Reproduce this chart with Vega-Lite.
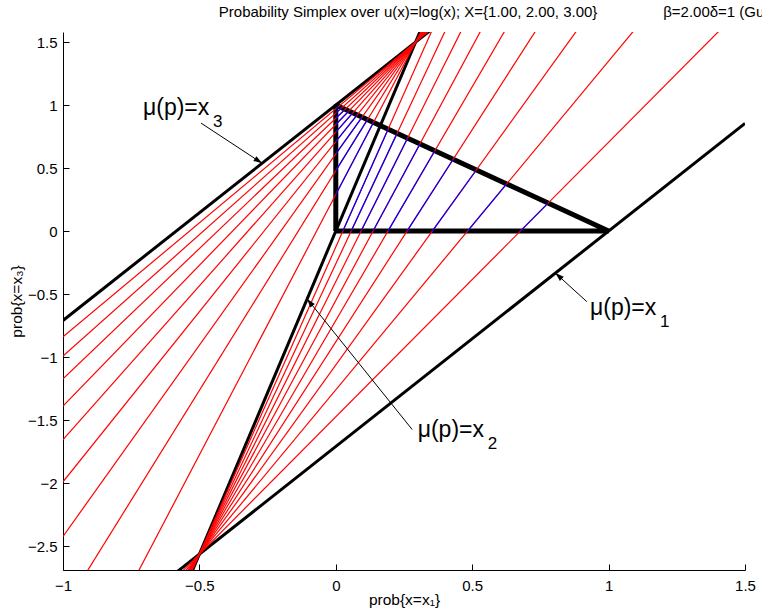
{
  "$schema": "https://vega.github.io/schema/vega-lite/v6.json",
  "width": 682,
  "height": 538,
  "autosize": {"type": "none"},
  "padding": {"left": 63, "top": 32, "right": 17, "bottom": 44},
  "background": "white",
  "config": {
    "view": {"stroke": null},
    "font": "Liberation Sans",
    "axis": {"grid": false, "domainColor": "black", "tickColor": "black", "labelColor": "black", "titleColor": "black", "labelFontSize": 15, "titleFontSize": 15.5, "titleFontWeight": "normal", "tickSize": -6, "labelFont": "Liberation Sans", "titleFont": "Liberation Sans", "domainWidth": 1, "tickWidth": 1, "labelFlush": false}
  },
  "datasets": {
    "lines": [
      {"id": "m1", "k": "black", "o": 0, "x": -1, "y": -3.4190},
      {"id": "m1", "k": "black", "o": 1, "x": 1.5, "y": 0.8548},
      {"id": "m2", "k": "black", "o": 0, "x": -1, "y": -5.1285},
      {"id": "m2", "k": "black", "o": 1, "x": 1.5, "y": 7.6928},
      {"id": "m3", "k": "black", "o": 0, "x": -1, "y": -0.7095},
      {"id": "m3", "k": "black", "o": 1, "x": 1.5, "y": 3.5643},
      {"id": "tri", "k": "tri", "o": 0, "x": 0, "y": 0},
      {"id": "tri", "k": "tri", "o": 1, "x": 1, "y": 0},
      {"id": "tri", "k": "tri", "o": 2, "x": 0, "y": 1},
      {"id": "tri", "k": "tri", "o": 3, "x": 0, "y": 0},
      {"id": "r1.1", "k": "red", "o": 0, "x": -1, "y": -3.6541},
      {"id": "r1.1", "k": "red", "o": 1, "x": 1.5, "y": 1.7950},
      {"id": "r1.2", "k": "red", "o": 0, "x": -1, "y": -3.8687},
      {"id": "r1.2", "k": "red", "o": 1, "x": 1.5, "y": 2.6534},
      {"id": "r1.3", "k": "red", "o": 0, "x": -1, "y": -4.0661},
      {"id": "r1.3", "k": "red", "o": 1, "x": 1.5, "y": 3.4430},
      {"id": "r1.4", "k": "red", "o": 0, "x": -1, "y": -4.2489},
      {"id": "r1.4", "k": "red", "o": 1, "x": 1.5, "y": 4.1741},
      {"id": "r1.5", "k": "red", "o": 0, "x": -1, "y": -4.4190},
      {"id": "r1.5", "k": "red", "o": 1, "x": 1.5, "y": 4.8548},
      {"id": "r1.6", "k": "red", "o": 0, "x": -1, "y": -4.5782},
      {"id": "r1.6", "k": "red", "o": 1, "x": 1.5, "y": 5.4915},
      {"id": "r1.7", "k": "red", "o": 0, "x": -1, "y": -4.7277},
      {"id": "r1.7", "k": "red", "o": 1, "x": 1.5, "y": 6.0895},
      {"id": "r1.8", "k": "red", "o": 0, "x": -1, "y": -4.8687},
      {"id": "r1.8", "k": "red", "o": 1, "x": 1.5, "y": 6.6534},
      {"id": "r1.9", "k": "red", "o": 0, "x": -1, "y": -5.0020},
      {"id": "r1.9", "k": "red", "o": 1, "x": 1.5, "y": 7.1868},
      {"id": "r2.1", "k": "red", "o": 0, "x": -1, "y": -3.8428},
      {"id": "r2.1", "k": "red", "o": 1, "x": 1.5, "y": 6.4916},
      {"id": "r2.2", "k": "red", "o": 0, "x": -1, "y": -3.0088},
      {"id": "r2.2", "k": "red", "o": 1, "x": 1.5, "y": 5.7124},
      {"id": "r2.3", "k": "red", "o": 0, "x": -1, "y": -2.4236},
      {"id": "r2.3", "k": "red", "o": 1, "x": 1.5, "y": 5.1657},
      {"id": "r2.4", "k": "red", "o": 0, "x": -1, "y": -1.9900},
      {"id": "r2.4", "k": "red", "o": 1, "x": 1.5, "y": 4.7606},
      {"id": "r2.5", "k": "red", "o": 0, "x": -1, "y": -1.6554},
      {"id": "r2.5", "k": "red", "o": 1, "x": 1.5, "y": 4.4480},
      {"id": "r2.6", "k": "red", "o": 0, "x": -1, "y": -1.3893},
      {"id": "r2.6", "k": "red", "o": 1, "x": 1.5, "y": 4.1994},
      {"id": "r2.7", "k": "red", "o": 0, "x": -1, "y": -1.1725},
      {"id": "r2.7", "k": "red", "o": 1, "x": 1.5, "y": 3.9968},
      {"id": "r2.8", "k": "red", "o": 0, "x": -1, "y": -0.9922},
      {"id": "r2.8", "k": "red", "o": 1, "x": 1.5, "y": 3.8284},
      {"id": "r2.9", "k": "red", "o": 0, "x": -1, "y": -0.8399},
      {"id": "r2.9", "k": "red", "o": 1, "x": 1.5, "y": 3.6861},
      {"id": "b1.1", "k": "blue", "o": 0, "x": 0.67646, "y": 0},
      {"id": "b1.1", "k": "blue", "o": 1, "x": 0.77821, "y": 0.22179},
      {"id": "b1.2", "k": "blue", "o": 0, "x": 0.48292, "y": 0},
      {"id": "b1.2", "k": "blue", "o": 1, "x": 0.62620, "y": 0.37380},
      {"id": "b1.3", "k": "blue", "o": 0, "x": 0.35372, "y": 0},
      {"id": "b1.3", "k": "blue", "o": 1, "x": 0.51514, "y": 0.48486},
      {"id": "b1.4", "k": "blue", "o": 0, "x": 0.26109, "y": 0},
      {"id": "b1.4", "k": "blue", "o": 1, "x": 0.43021, "y": 0.56979},
      {"id": "b1.5", "k": "blue", "o": 0, "x": 0.19127, "y": 0},
      {"id": "b1.5", "k": "blue", "o": 1, "x": 0.36299, "y": 0.63701},
      {"id": "b1.6", "k": "blue", "o": 0, "x": 0.13663, "y": 0},
      {"id": "b1.6", "k": "blue", "o": 1, "x": 0.30835, "y": 0.69165},
      {"id": "b1.7", "k": "blue", "o": 0, "x": 0.09263, "y": 0},
      {"id": "b1.7", "k": "blue", "o": 1, "x": 0.26297, "y": 0.73703},
      {"id": "b1.8", "k": "blue", "o": 0, "x": 0.05638, "y": 0},
      {"id": "b1.8", "k": "blue", "o": 1, "x": 0.22462, "y": 0.77538},
      {"id": "b1.9", "k": "blue", "o": 0, "x": 0.02595, "y": 0},
      {"id": "b1.9", "k": "blue", "o": 1, "x": 0.19173, "y": 0.80827},
      {"id": "b2.1", "k": "blue", "o": 0, "x": 0, "y": 0.29097},
      {"id": "b2.1", "k": "blue", "o": 1, "x": 0.13811, "y": 0.86189},
      {"id": "b2.2", "k": "blue", "o": 0, "x": 0, "y": 0.47968},
      {"id": "b2.2", "k": "blue", "o": 1, "x": 0.11592, "y": 0.88408},
      {"id": "b2.3", "k": "blue", "o": 0, "x": 0, "y": 0.61211},
      {"id": "b2.3", "k": "blue", "o": 1, "x": 0.09611, "y": 0.90389},
      {"id": "b2.4", "k": "blue", "o": 0, "x": 0, "y": 0.71025},
      {"id": "b2.4", "k": "blue", "o": 1, "x": 0.07831, "y": 0.92169},
      {"id": "b2.5", "k": "blue", "o": 0, "x": 0, "y": 0.78595},
      {"id": "b2.5", "k": "blue", "o": 1, "x": 0.06220, "y": 0.93780},
      {"id": "b2.6", "k": "blue", "o": 0, "x": 0, "y": 0.84616},
      {"id": "b2.6", "k": "blue", "o": 1, "x": 0.04755, "y": 0.95245},
      {"id": "b2.7", "k": "blue", "o": 0, "x": 0, "y": 0.89524},
      {"id": "b2.7", "k": "blue", "o": 1, "x": 0.03415, "y": 0.96585},
      {"id": "b2.8", "k": "blue", "o": 0, "x": 0, "y": 0.93602},
      {"id": "b2.8", "k": "blue", "o": 1, "x": 0.02185, "y": 0.97815},
      {"id": "b2.9", "k": "blue", "o": 0, "x": 0, "y": 0.97049},
      {"id": "b2.9", "k": "blue", "o": 1, "x": 0.01050, "y": 0.98950}
    ],
    "arrows": [
      {"a": "x3", "x": -0.494, "y": 0.857, "x2": -0.27, "y2": 0.538},
      {"a": "x1", "x": 0.92, "y": -0.56, "x2": 0.805, "y2": -0.3334},
      {"a": "x2", "x": 0.28, "y": -1.575, "x2": -0.105, "y2": -0.5385}
    ],
    "labels": [
      {"x": -0.7067, "y": 0.921, "s": "3"},
      {"x": 0.9318, "y": -0.666, "s": "1"},
      {"x": 0.3002, "y": -1.632, "s": "2"}
    ],
    "heading": [
      {"x": 0.265, "y": 1.699, "t": "Probability Simplex over u(x)=log(x); X={1.00, 2.00, 3.00}"}
    ],
    "notes": [
      {"x": 1.2, "y": 1.699, "t": "β=2.00δ=1 (Gul)"}
    ]
  },
  "layer": [
    {
      "data": {"name": "lines"},
      "transform": [{"filter": "datum.k == 'black'"}],
      "mark": {"type": "line", "color": "black", "strokeWidth": 3, "clip": true},
      "encoding": {
        "x": {"field": "x", "type": "quantitative", "scale": {"domain": [-1, 1.5], "nice": false, "zero": false},
              "axis": {"values": [-1, -0.5, 0, 0.5, 1, 1.5], "format": "~g", "title": "prob{x=x₁}", "labelPadding": 14, "titlePadding": -1}},
        "y": {"field": "y", "type": "quantitative", "scale": {"domain": [-2.69, 1.58], "nice": false, "zero": false},
              "axis": {"values": [-2.5, -2, -1.5, -1, -0.5, 0, 0.5, 1, 1.5], "format": "~g", "title": "prob{x=x₃}", "labelPadding": 12, "titlePadding": 3}},
        "detail": {"field": "id"},
        "order": {"field": "o"}
      }
    },
    {
      "data": {"name": "lines"},
      "transform": [{"filter": "datum.k == 'tri'"}],
      "mark": {"type": "line", "color": "black", "strokeWidth": 5, "strokeJoin": "bevel", "clip": true},
      "encoding": {
        "x": {"field": "x", "type": "quantitative"},
        "y": {"field": "y", "type": "quantitative"},
        "detail": {"field": "id"},
        "order": {"field": "o"}
      }
    },
    {
      "data": {"name": "lines"},
      "transform": [{"filter": "datum.k == 'red'"}],
      "mark": {"type": "line", "color": "#ff0000", "strokeWidth": 1.2, "clip": true},
      "encoding": {
        "x": {"field": "x", "type": "quantitative"},
        "y": {"field": "y", "type": "quantitative"},
        "detail": {"field": "id"},
        "order": {"field": "o"}
      }
    },
    {
      "data": {"name": "lines"},
      "transform": [{"filter": "datum.k == 'blue'"}],
      "mark": {"type": "line", "color": "#0000ff", "strokeWidth": 1.2, "clip": true},
      "encoding": {
        "x": {"field": "x", "type": "quantitative"},
        "y": {"field": "y", "type": "quantitative"},
        "detail": {"field": "id"},
        "order": {"field": "o"}
      }
    },
    {
      "data": {"name": "arrows"},
      "mark": {"type": "rule", "color": "black", "strokeWidth": 1},
      "encoding": {
        "x": {"field": "x", "type": "quantitative"},
        "y": {"field": "y", "type": "quantitative"},
        "x2": {"field": "x2"},
        "y2": {"field": "y2"}
      }
    },
    {
      "data": {"name": "arrows"},
      "transform": [{"filter": "datum.a == 'x3'"}],
      "mark": {"type": "point", "shape": "M0,0L-1,-0.33L-1,0.33Z", "filled": true, "color": "black", "opacity": 1, "size": 300, "angle": 33.3},
      "encoding": {
        "x": {"field": "x2", "type": "quantitative"},
        "y": {"field": "y2", "type": "quantitative"}
      }
    },
    {
      "data": {"name": "arrows"},
      "transform": [{"filter": "datum.a == 'x1'"}],
      "mark": {"type": "point", "shape": "M0,0L-1,-0.33L-1,0.33Z", "filled": true, "color": "black", "opacity": 1, "size": 300, "angle": 222.3},
      "encoding": {
        "x": {"field": "x2", "type": "quantitative"},
        "y": {"field": "y2", "type": "quantitative"}
      }
    },
    {
      "data": {"name": "arrows"},
      "transform": [{"filter": "datum.a == 'x2'"}],
      "mark": {"type": "point", "shape": "M0,0L-1,-0.33L-1,0.33Z", "filled": true, "color": "black", "opacity": 1, "size": 300, "angle": 231.2},
      "encoding": {
        "x": {"field": "x2", "type": "quantitative"},
        "y": {"field": "y2", "type": "quantitative"}
      }
    },
    {
      "data": {"name": "labels"},
      "mark": {"type": "text", "text": "μ(p)=x", "align": "left", "baseline": "alphabetic", "fontSize": 23, "font": "Liberation Sans", "color": "black"},
      "encoding": {
        "x": {"field": "x", "type": "quantitative"},
        "y": {"field": "y", "type": "quantitative"}
      }
    },
    {
      "data": {"name": "labels"},
      "mark": {"type": "text", "align": "left", "baseline": "alphabetic", "fontSize": 17, "font": "Liberation Sans", "color": "black", "dx": 70, "dy": 12},
      "encoding": {
        "x": {"field": "x", "type": "quantitative"},
        "y": {"field": "y", "type": "quantitative"},
        "text": {"field": "s"}
      }
    },
    {
      "data": {"name": "heading"},
      "mark": {"type": "text", "align": "center", "baseline": "alphabetic", "fontSize": 15, "font": "Liberation Sans", "color": "black"},
      "encoding": {
        "x": {"field": "x", "type": "quantitative"},
        "y": {"field": "y", "type": "quantitative"},
        "text": {"field": "t"}
      }
    },
    {
      "data": {"name": "notes"},
      "mark": {"type": "text", "align": "left", "baseline": "alphabetic", "fontSize": 15, "font": "Liberation Sans", "color": "black"},
      "encoding": {
        "x": {"field": "x", "type": "quantitative"},
        "y": {"field": "y", "type": "quantitative"},
        "text": {"field": "t"}
      }
    }
  ]
}
